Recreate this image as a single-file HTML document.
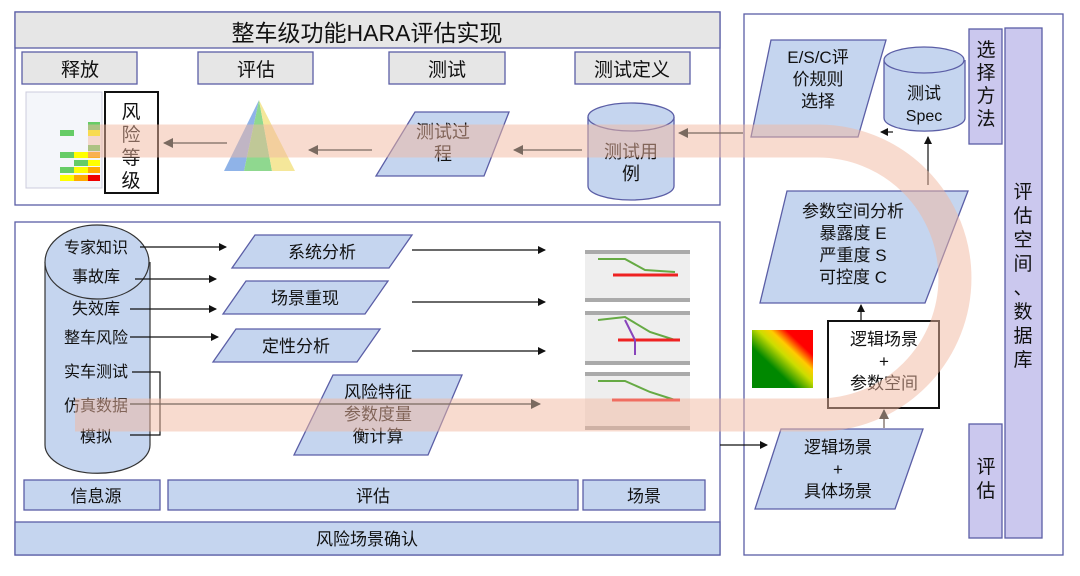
<!DOCTYPE html>
<html><head><meta charset="utf-8"><style>
body{margin:0;background:#fff}
svg text{font-family:"Liberation Sans","Noto Sans CJK SC",sans-serif;fill:#111}
</style></head><body>
<svg width="1080" height="571" viewBox="0 0 1080 571" xmlns="http://www.w3.org/2000/svg">
<defs>
<marker id="a" markerWidth="8" markerHeight="8" refX="7" refY="4" orient="auto" markerUnits="userSpaceOnUse"><path d="M0,0 L8,4 L0,8 z" fill="#111"/></marker>
<marker id="b" markerWidth="10" markerHeight="10" refX="9" refY="5" orient="auto" markerUnits="userSpaceOnUse"><path d="M0,0 L10,5 L0,10 z" fill="#7a6a60"/></marker>
</defs>
<g stroke="#5b5ea6" stroke-width="1.3">
<rect x="15" y="12" width="705" height="193" fill="#fff"/>
<rect x="15" y="12" width="705" height="36" fill="#e6e6e6"/>
<rect x="22" y="52" width="115" height="32" fill="#e6e6e6"/>
<rect x="198" y="52" width="115" height="32" fill="#e6e6e6"/>
<rect x="389" y="52" width="116" height="32" fill="#e6e6e6"/>
<rect x="575" y="52" width="115" height="32" fill="#e6e6e6"/>
<rect x="15" y="222" width="705" height="333" fill="#fff"/>
<rect x="15" y="522" width="705" height="33" fill="#c5d5ef"/>
<rect x="24" y="480" width="136" height="30" fill="#c5d5ef"/>
<rect x="168" y="480" width="410" height="30" fill="#c5d5ef"/>
<rect x="583" y="480" width="122" height="30" fill="#c5d5ef"/>
<rect x="744" y="14" width="319" height="541" fill="#fff"/>
<rect x="969" y="29" width="33" height="115" fill="#cbc8ee"/>
<rect x="1005" y="28" width="37" height="510" fill="#cbc8ee"/>
<rect x="969" y="424" width="33" height="114" fill="#cbc8ee"/>
</g>
<text x="367" y="41" font-size="23" text-anchor="middle">整车级功能HARA评估实现</text>
<g font-size="19" text-anchor="middle">
<text x="80" y="76">释放</text><text x="256" y="76">评估</text><text x="447" y="76">测试</text><text x="632" y="76">测试定义</text>
</g>
<rect x="26" y="92" width="76" height="96" fill="#f4f6fa" stroke="#ccd"/>
<g>
<rect x="60" y="130" width="14" height="6" fill="#6c6"/><rect x="88" y="122" width="12" height="8" fill="#6c6"/>
<rect x="88" y="130" width="12" height="6" fill="#ff0"/><rect x="88" y="145" width="12" height="6" fill="#6c6"/>
<rect x="60" y="152" width="14" height="6" fill="#6c6"/><rect x="74" y="152" width="14" height="6" fill="#ff0"/><rect x="88" y="152" width="12" height="6" fill="#fa0"/>
<rect x="74" y="160" width="14" height="6" fill="#6c6"/><rect x="88" y="160" width="12" height="6" fill="#ff0"/>
<rect x="60" y="167" width="14" height="6" fill="#6c6"/><rect x="74" y="167" width="14" height="6" fill="#ff0"/><rect x="88" y="167" width="12" height="6" fill="#fa0"/>
<rect x="60" y="175" width="14" height="6" fill="#ff0"/><rect x="74" y="175" width="14" height="6" fill="#fa0"/><rect x="88" y="175" width="12" height="6" fill="#e00"/>
</g>
<rect x="105" y="92" width="53" height="101" fill="#fff" stroke="#111" stroke-width="2"/>
<g font-size="19" text-anchor="middle"><text x="131" y="118">风</text><text x="131" y="141">险</text><text x="131" y="164">等</text><text x="131" y="187">级</text></g>
<polygon points="259,100 224,171 244,171" fill="#8fb3e8"/>
<polygon points="259,100 244,171 272,171" fill="#8fd88f"/>
<polygon points="259,100 272,171 295,171" fill="#f5e79a"/>
<polygon points="415,112 509,112 484,176 376,176" fill="#c5d5ef" stroke="#5b5ea6" stroke-width="1.3"/>
<text x="443" y="138" font-size="18" text-anchor="middle">测试过</text><text x="443" y="160" font-size="18" text-anchor="middle">程</text>
<path d="M588,117 L588,186 A43,14 0 0 0 674,186 L674,117" fill="#c5d5ef" stroke="#5b5ea6" stroke-width="1.3"/>
<ellipse cx="631" cy="117" rx="43" ry="14" fill="#c5d5ef" stroke="#5b5ea6" stroke-width="1.3"/>
<text x="631" y="158" font-size="18" text-anchor="middle">测试用</text><text x="631" y="180" font-size="18" text-anchor="middle">例</text>
<path d="M45,262 L45,445 A52,28 0 0 0 150,445 L150,262" fill="#c5d5ef" stroke="#333" stroke-width="1.2"/>
<ellipse cx="97" cy="262" rx="52" ry="37" fill="#c5d5ef" stroke="#333" stroke-width="1.2"/>
<g font-size="16" text-anchor="middle">
<text x="96" y="253">专家知识</text><text x="96" y="282">事故库</text><text x="96" y="314">失效库</text><text x="96" y="343">整车风险</text><text x="96" y="377">实车测试</text><text x="96" y="411">仿真数据</text><text x="96" y="442">模拟</text>
</g>
<g stroke="#5b5ea6" stroke-width="1.3" fill="#c5d5ef">
<polygon points="255,235 412,235 389,268 232,268"/>
<polygon points="246,281 388,281 365,314 223,314"/>
<polygon points="236,329 380,329 357,362 213,362"/>
<polygon points="333,375 462,375 428,455 294,455"/>
</g>
<g font-size="17" text-anchor="middle">
<text x="322" y="258">系统分析</text><text x="305" y="304">场景重现</text><text x="296" y="352">定性分析</text>
<text x="378" y="398">风险特征</text><text x="378" y="420">参数度量</text><text x="378" y="442">衡计算</text>
</g>
<g>
<rect x="585" y="250" width="105" height="52" fill="#eee"/><rect x="585" y="250" width="105" height="4" fill="#aaa"/><rect x="585" y="298" width="105" height="4" fill="#aaa"/>
<polyline points="598,259 625,259 645,270 675,272" fill="none" stroke="#6a4" stroke-width="2"/>
<line x1="613" y1="275" x2="678" y2="275" stroke="#e22" stroke-width="3"/>
<rect x="585" y="311" width="105" height="54" fill="#eee"/><rect x="585" y="311" width="105" height="4" fill="#aaa"/><rect x="585" y="361" width="105" height="4" fill="#aaa"/>
<polyline points="598,320 625,317 650,332 675,340" fill="none" stroke="#6a4" stroke-width="2"/>
<line x1="618" y1="340" x2="680" y2="340" stroke="#e22" stroke-width="3"/>
<polyline points="625,320 635,340 635,355" fill="none" stroke="#84b" stroke-width="2"/>
<rect x="585" y="372" width="105" height="58" fill="#eee"/><rect x="585" y="372" width="105" height="4" fill="#aaa"/><rect x="585" y="426" width="105" height="4" fill="#aaa"/>
<polyline points="598,381 625,381 650,392 675,400" fill="none" stroke="#6a4" stroke-width="2"/>
<line x1="612" y1="400" x2="680" y2="400" stroke="#e22" stroke-width="3"/>
</g>
<polygon points="771,40 886,40 858,137 751,137" fill="#c5d5ef" stroke="#5b5ea6" stroke-width="1.3"/>
<g font-size="17" text-anchor="middle"><text x="818" y="63">E/S/C评</text><text x="818" y="85">价规则</text><text x="818" y="107">选择</text></g>
<path d="M884,60 L884,118 A40,13 0 0 0 965,118 L965,60" fill="#c5d5ef" stroke="#5b5ea6" stroke-width="1.3"/>
<ellipse cx="924" cy="60" rx="40" ry="13" fill="#c5d5ef" stroke="#5b5ea6" stroke-width="1.3"/>
<text x="924" y="99" font-size="17" text-anchor="middle">测试</text><text x="924" y="121" font-size="16" text-anchor="middle">Spec</text>
<polygon points="787,191 968,191 925,303 760,303" fill="#c5d5ef" stroke="#5b5ea6" stroke-width="1.3"/>
<g font-size="17" text-anchor="middle"><text x="853" y="217">参数空间分析</text><text x="853" y="239">暴露度 E</text><text x="853" y="261">严重度 S</text><text x="853" y="283">可控度 C</text></g>
<defs><linearGradient id="h" x1="0" y1="1" x2="1" y2="0"><stop offset="0.35" stop-color="#080"/><stop offset="0.55" stop-color="#cd0"/><stop offset="0.65" stop-color="#fc0"/><stop offset="0.78" stop-color="#f00"/></linearGradient></defs>
<rect x="752" y="330" width="61" height="58" fill="url(#h)"/>
<rect x="828" y="321" width="111" height="87" fill="#fff" stroke="#111" stroke-width="2"/>
<g font-size="17" text-anchor="middle"><text x="884" y="345">逻辑场景</text><text x="884" y="367">+</text><text x="884" y="389">参数空间</text></g>
<polygon points="781,429 923,429 895,509 755,509" fill="#c5d5ef" stroke="#5b5ea6" stroke-width="1.3"/>
<g font-size="17" text-anchor="middle"><text x="838" y="453">逻辑场景</text><text x="838" y="475">+</text><text x="838" y="497">具体场景</text></g>
<g font-size="19" text-anchor="middle">
<text x="986" y="56">选</text><text x="986" y="79">择</text><text x="986" y="102">方</text><text x="986" y="125">法</text>
<text x="1023" y="198">评</text><text x="1023" y="222">估</text><text x="1023" y="246">空</text><text x="1023" y="270">间</text><text x="1023" y="294">、</text><text x="1023" y="318">数</text><text x="1023" y="342">据</text><text x="1023" y="366">库</text>
<text x="986" y="473">评</text><text x="986" y="497">估</text>
<text x="96" y="502" font-size="17">信息源</text><text x="373" y="502" font-size="17">评估</text><text x="644" y="502" font-size="17">场景</text>
<text x="367" y="545" font-size="17">风险场景确认</text>
</g>
<g stroke="#111" stroke-width="1.2" fill="none" marker-end="url(#a)">
<line x1="140" y1="247" x2="226" y2="247"/><line x1="135" y1="279" x2="216" y2="279"/>
<line x1="130" y1="309" x2="216" y2="309"/><line x1="130" y1="337" x2="218" y2="337"/>
<line x1="412" y1="250" x2="545" y2="250"/><line x1="412" y1="302" x2="545" y2="302"/><line x1="412" y1="351" x2="545" y2="351"/>
<line x1="720" y1="445" x2="767" y2="445"/>
<line x1="928" y1="185" x2="928" y2="137"/><line x1="893" y1="132" x2="881" y2="132"/>
<line x1="861" y1="321" x2="861" y2="305"/>
</g>
<polyline points="132,372 160,372 160,435 130,435" fill="none" stroke="#111" stroke-width="1.2"/>
<path d="M88,141 L818,141 A137,137 0 0 1 818,415 L75,415" fill="none" stroke="#f2b8a0" stroke-opacity="0.5" stroke-width="33"/>
<g stroke="#7a6a60" stroke-width="1.3" fill="none" marker-end="url(#b)">
<line x1="227" y1="143" x2="164" y2="143"/><line x1="372" y1="150" x2="309" y2="150"/>
<line x1="582" y1="150" x2="514" y2="150"/><line x1="743" y1="133" x2="679" y2="133"/>
<line x1="130" y1="404" x2="540" y2="404"/><line x1="884" y1="428" x2="884" y2="410"/>
</g>
</svg>
</body></html>
